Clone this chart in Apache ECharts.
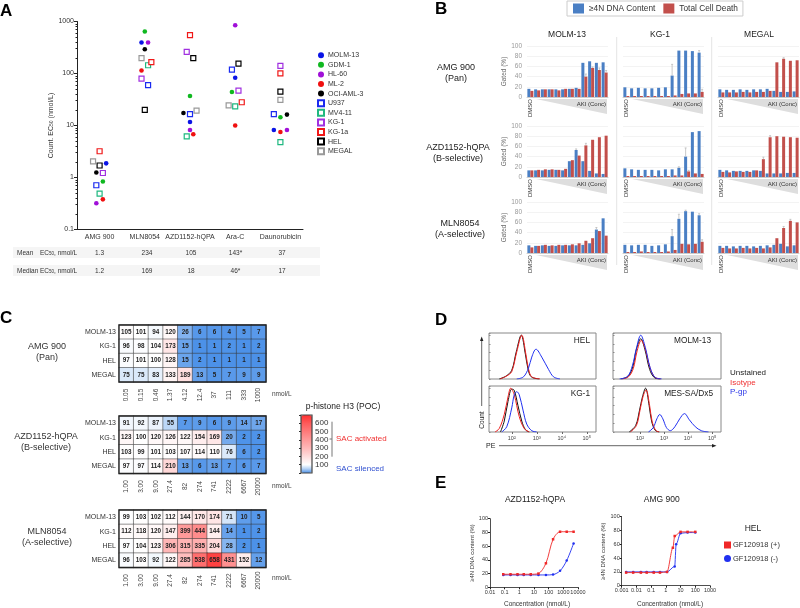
<!DOCTYPE html>
<html><head><meta charset="utf-8">
<style>html,body{margin:0;padding:0;background:#fff}#c{width:800px;height:608px}</style>
<script src="https://cdn.jsdelivr.net/npm/echarts@6/dist/echarts.min.js"></script>
</head><body><div id="c"></div>
<script>
// ---------- Panel A data ----------
const drugs = ['AMG 900','MLN8054','AZD1152-hQPA','Ara-C','Daunorubicin'];
const meanRow = ['1.3','234','105','143*','37'];
const medianRow = ['1.2','169','18','46*','17'];
const molm13 = [1.87,394,11.7,83,8.2];
const gdm1   = [0.84,641,37,44,14.4];
const hl60   = [0.32,394,8.2,849,8.2];
const ml2    = [0.38,114,6.8,10,7.5];
const ociAml3= [1.25,293,17.4,null,16.2];
const u937   = [0.71,60,16.6,119,16.6];
const mv411  = [0.49,144,6.2,23.4,4.8];
const kg1    = [1.22,80,260,47,140];
const kg1a   = [3.2,165,545,28,101];
const hel    = [1.7,20,197,155,45];
const megal  = [2.05,197,19.3,24.4,31];
// horizontal swarm slot of each point inside its drug column
const molm13Slot=[2,-1,0,0,-2], gdm1Slot=[1,0,0,-1,0], hl60Slot=[-1,1,0,0,2], ml2Slot=[1,-1,1,0,0],
 ociSlot=[-1,0,-2,0,2], u937Slot=[-1,1,0,-1,-2], mv411Slot=[0,1,-1,0,0], kg1Slot=[1,-1,-1,1,0],
 kg1aSlot=[0,2,0,2,0], helSlot=[0,0,1,1,0], megalSlot=[-2,-1,2,-2,0];
// ---------- Panel B data ----------
const bCols = ['MOLM-13','KG-1','MEGAL'];
const amgMolmB=[16,15,15,15,15,15,16,18,67,70,67,68], amgMolmR=[12,13,15,15,13,16,16,16,40,57,53,48];
const amgKgB=[19,17,18,17,17,18,19,42,91,91,90,87],   amgKgR=[2,2,2,2,2,2,2,3,6,7,7,10];
const amgMegB=[15,14,14,15,14,15,15,16,12,10,10,11],  amgMegR=[9,9,9,10,9,10,10,12,68,75,71,72];
const azdMolmB=[13,13,13,14,14,13,31,53,31,12,7,6],   azdMolmR=[13,14,15,15,14,16,33,42,62,73,78,81];
const azdKgB=[17,15,14,14,14,13,15,15,18,40,88,90],   azdKgR=[2,2,2,2,2,2,2,3,3,11,7,6];
const azdMegB=[14,13,12,12,12,13,12,7,7,7,8,8],       azdMegR=[10,9,11,10,10,13,35,78,80,79,78,77];
const mlnMolmB=[15,14,15,14,14,15,15,15,16,19,46,68], mlnMolmR=[11,14,16,15,16,16,17,19,24,29,43,34];
const mlnKgB=[16,15,16,16,14,15,17,33,67,82,81,74],   mlnKgR=[2,2,3,2,2,2,3,6,18,17,18,22];
const mlnMegB=[14,14,13,14,14,13,14,15,16,18,13,15],  mlnMegR=[10,9,9,10,9,10,9,11,29,49,63,60];
// [row, col, colour series, bar, error]
const bErrors=[[0,0,1,8,5],[0,0,1,9,2],[0,0,1,10,4],[0,0,1,11,4],[0,1,0,7,22],[0,1,0,11,4],[0,1,1,11,5],[0,2,1,9,2],
 [1,0,0,7,2],[1,0,1,8,4],[1,1,0,9,17],[1,1,0,8,2],[1,1,1,9,2],[1,2,1,6,4],[1,2,1,7,3],
 [2,0,0,10,4],[2,1,0,7,13],[2,1,0,8,9],[2,1,0,9,2],[2,1,0,11,3],[2,1,1,11,4],[2,2,1,9,3],[2,2,1,10,3]];
// ---------- Panel C data ----------
const cRows=['MOLM-13','KG-1','HEL','MEGAL'];
const amgDoses=['0.05','0.15','0.46','1.37','4.12','12.4','37','111','333','1000'];
const azdDoses=['1.00','3.00','9.00','27.4','82','274','741','2222','6667','20000'];
const mlnDoses=['1.00','3.00','9.00','27.4','82','274','741','2222','6667','20000'];
const amgHeat=[[105,101,94,120,26,6,6,4,5,7],[96,98,104,173,15,1,1,2,1,2],[97,101,100,128,15,2,1,1,1,1],[75,75,83,133,189,13,5,7,9,9]];
const azdHeat=[[91,92,87,55,7,9,6,9,14,17],[123,100,120,126,122,154,169,20,2,2],[103,99,101,103,107,114,110,76,6,2],[97,97,114,210,13,6,13,7,6,7]];
const mlnHeat=[[99,103,102,112,144,170,174,71,10,5],[112,118,120,147,399,444,144,14,1,2],[97,104,123,306,315,335,204,28,2,1],[96,103,92,122,285,538,658,431,152,12]];
// ---------- Panel D data: [log10 PE, count %] ----------
const helBlack=[[1.5,0],[1.78,7],[2,20],[2.18,62],[2.38,100],[2.55,55],[2.65,23],[2.78,5],[3.1,0]];
const helRed=[[1.53,0],[1.8,7],[2,17],[2.2,62],[2.4,100],[2.57,55],[2.67,23],[2.8,5],[3.13,0]];
const helBlue=[[2.2,0],[2.47,5],[2.67,25],[2.8,50],[2.97,68],[3.2,50],[3.47,22],[3.67,5],[3.93,0]];
const molBlack=[[1.2,0],[1.5,6],[1.7,28],[1.85,68],[2.03,92],[2.2,68],[2.4,22],[2.6,3],[2.85,0]];
const molRed=[[1.25,0],[1.52,5],[1.72,24],[1.87,62],[2.05,88],[2.2,72],[2.42,25],[2.62,4],[2.85,0]];
const molBlue=[[1.15,0],[1.48,6],[1.68,30],[1.85,70],[2.03,100],[2.22,72],[2.42,26],[2.62,4],[2.9,0]];
const kgBlack=[[1.55,0],[1.7,25],[1.85,70],[2,98],[2.1,95],[2.25,60],[2.4,25],[2.55,5],[2.7,0]];
const kgRed=[[1.33,0],[1.5,8],[1.7,40],[1.85,80],[1.96,100],[2.1,85],[2.3,35],[2.5,8],[2.7,0]];
const kgBlue=[[1.6,0],[1.8,12],[2,55],[2.1,85],[2.2,92],[2.3,85],[2.45,50],[2.6,18],[2.8,3],[3,0]];
const mesBlack=[[1.55,0],[1.82,15],[1.98,50],[2.1,80],[2.23,100],[2.38,60],[2.48,25],[2.63,4],[2.8,0]];
const mesRed=[[1.6,0],[1.85,15],[2,50],[2.12,80],[2.25,96],[2.4,60],[2.5,25],[2.65,4],[2.8,0]];
const mesBlue=[[2.35,0],[2.55,10],[2.7,30],[2.82,40],[2.95,30],[3.1,10],[3.26,3],[3.45,12],[3.65,30],[3.85,42],[4.05,28],[4.3,12],[4.55,3],[4.85,0]];
// ---------- Panel E data: [nmol/L, %] ----------
const azdPlus=[[0.08,19],[0.25,19],[0.75,19],[2,19],[6,19],[20,20],[65,35],[200,70],[600,81],[1700,81],[5000,81]];
const azdMinus=[[0.08,18],[0.25,18],[0.75,18],[2,18],[6,18],[20,18],[65,18],[200,18.5],[600,24],[1700,39],[5000,64]];
const amgPlus=[[0.002,19],[0.006,19],[0.02,19],[0.05,19],[0.15,19],[0.4,19],[1.2,20],[3,55],[4,72],[10,78],[30,78],[100,78]];
const amgMinus=[[0.002,20],[0.006,20],[0.02,20],[0.05,20],[0.15,20],[0.4,20],[1.2,20],[4,28],[5,60],[10,76],[30,77],[100,77]];

const FONT='"Liberation Sans",Arial,sans-serif';
const grid=[],xAxis=[],yAxis=[],series=[],gfx=[];
const T=(x,y,text,o={})=>gfx.push({type:'text',x,y,rotation:o.rot||0,silent:true,z:20,
  style:{text,fontFamily:FONT,fontSize:o.size||8,fontWeight:o.bold?'bold':'normal',fill:o.color||'#333',
  align:o.align||'left',verticalAlign:'middle',rich:o.rich}});
const R=(x,y,w,h,fill)=>gfx.push({type:'rect',shape:{x,y,width:w,height:h},style:{fill},silent:true,z:1});
const L=(x1,y1,x2,y2,c='#777',w=1)=>gfx.push({type:'line',shape:{x1,y1,x2,y2},style:{stroke:c,lineWidth:w},silent:true,z:3});
const P=(pts,fill)=>gfx.push({type:'polygon',shape:{points:pts},style:{fill},silent:true,z:1});

// ---- Panel letters
[['A',0,11],['B',435,9],['C',0,318],['D',435,320],['E',435,483]].forEach(a=>T(a[1],a[2],a[0],{size:17,bold:true,color:'#000'}));

// ---- Panel A
grid.push({left:77,top:21.5,width:226,height:208});
xAxis.push({gridIndex:0,type:'category',data:drugs,axisLine:{lineStyle:{color:'#222'}},axisTick:{alignWithLabel:true,length:2.5,lineStyle:{color:'#222'}},
  axisLabel:{fontSize:7,color:'#333',fontFamily:FONT,margin:4,interval:0}});
xAxis.push({gridIndex:0,type:'value',min:-0.5,max:4.5,show:false});
yAxis.push({gridIndex:0,type:'log',logBase:10,min:0.1,max:1000,splitLine:{show:false},
  axisLine:{show:true,onZero:false,lineStyle:{color:'#222'}},axisTick:{length:3,lineStyle:{color:'#222'}},minorTick:{show:true,length:1.5,splitNumber:9},minorSplitLine:{show:false},
  axisLabel:{fontSize:7,color:'#333',fontFamily:FONT,margin:3,formatter:v=>String(v)},
  name:'Count. EC{s|50} (nmol/L)',nameLocation:'middle',nameGap:21,nameTextStyle:{fontSize:7,color:'#333',fontFamily:FONT,rich:{s:{fontSize:5,verticalAlign:'bottom',fontFamily:FONT,color:'#333'}}}});
const aSeries=[['MOLM-13',molm13,molm13Slot,'#0a14e6',0],['GDM-1',gdm1,gdm1Slot,'#10b820',0],['HL-60',hl60,hl60Slot,'#a010d8',0],['ML-2',ml2,ml2Slot,'#f01010',0],['OCI-AML-3',ociAml3,ociSlot,'#000',0],
 ['U937',u937,u937Slot,'#1a2af0',1],['MV4-11',mv411,mv411Slot,'#1fb880',1],['KG-1',kg1,kg1Slot,'#a030e0',1],['KG-1a',kg1a,kg1aSlot,'#f01818',1],['HEL',hel,helSlot,'#000',1],['MEGAL',megal,megalSlot,'#999',1]];
aSeries.forEach(s=>{
  series.push({name:s[0],type:'scatter',xAxisIndex:1,yAxisIndex:0,symbol:s[4]?'rect':'circle',symbolSize:s[4]?5:4.6,
   itemStyle:s[4]?{color:'#fff',borderColor:s[3],borderWidth:1.2,opacity:1}:{color:s[3],opacity:1},
   data:s[1].map((v,i)=>v==null?null:[i+s[2][i]*0.0725,v]).filter(Boolean)});
});
R(13,247,307,11,'#f5f5f5'); R(13,265,307,11,'#f5f5f5');
const ec='EC{s|50}, nmol/L', rich={s:{fontSize:4.5,verticalAlign:'bottom',fontFamily:FONT,color:'#333'}};
T(17,253,'Mean',{size:6.5}); T(17,271,'Median',{size:6.5}); T(40,253,ec,{size:6.5,rich}); T(40,271,ec,{size:6.5,rich});
const rowX=[99.5,147,191,235.5,282];
rowX.forEach((x,i)=>{T(x,253,meanRow[i],{size:6.5,align:'center'});T(x,271,medianRow[i],{size:6.5,align:'center'});});

// ---- Panel B
const bData=[[[amgMolmB,amgMolmR],[amgKgB,amgKgR],[amgMegB,amgMegR]],[[azdMolmB,azdMolmR],[azdKgB,azdKgR],[azdMegB,azdMegR]],[[mlnMolmB,mlnMolmR],[mlnKgB,mlnKgR],[mlnMegB,mlnMegR]]];
const colX=[527,623,718], rowTop=[46,126,202], bNames=['≥4N DNA Content','Total Cell Death'], bColors=['#4a7fc4','#c24f4b'];
const bCats=['DMSO','','','','','','','','','','',''];
bData.forEach((row,r)=>row.forEach((pair,c)=>{
  const gi=grid.length, W=81, H=51;
  grid.push({left:colX[c],top:rowTop[r],width:W,height:H});
  xAxis.push({gridIndex:gi,type:'category',data:bCats,axisLine:{lineStyle:{color:'#ccc'}},axisTick:{show:false},
    axisLabel:{interval:0,rotate:90,fontSize:6,color:'#333',margin:2,fontFamily:FONT}});
  yAxis.push({gridIndex:gi,type:'value',min:0,max:100,interval:20,axisLine:{show:false},axisTick:{show:false},splitLine:{lineStyle:{color:'#eee',width:.7}},
    axisLabel:{show:c===0,fontSize:6.5,color:'#999',margin:5,fontFamily:FONT},
    name:c===0?'Gated (%)':'',nameLocation:'middle',nameGap:16,nameTextStyle:{fontSize:6.5,color:'#666',fontFamily:FONT}});
  const xi=xAxis.length-1,yi=yAxis.length-1;
  pair.forEach((vals,k)=>series.push({name:bNames[k],type:'bar',xAxisIndex:xi,yAxisIndex:yi,barWidth:3,barGap:'0%',data:vals,itemStyle:{color:bColors[k]},silent:true}));
  const err=bErrors.filter(e=>e[0]===r&&e[1]===c).map(e=>[e[3],pair[e[2]][e[3]],e[4],e[2]]);
  series.push({type:'custom',xAxisIndex:xi,yAxisIndex:yi,silent:true,z:5,encode:{x:0,y:1},data:err,renderItem:(p,api)=>{
    const dx=api.value(3)===0?-1.5:1.5,a=api.coord([api.value(0),api.value(1)]),b=api.coord([api.value(0),api.value(1)+api.value(2)]);
    return {type:'group',children:[
      {type:'line',shape:{x1:a[0]+dx,y1:a[1],x2:b[0]+dx,y2:b[1]},style:{stroke:'#bbb',lineWidth:.8}},
      {type:'line',shape:{x1:b[0]+dx-1,y1:b[1],x2:b[0]+dx+1,y2:b[1]},style:{stroke:'#bbb',lineWidth:.8}}]};}});
  const x1=colX[c]+W-1,y0=rowTop[r]+H+2;
  P([[colX[c]+9,y0],[x1,y0],[x1,y0+15]],'#dedede');
  T(x1-1,y0+5,'AKI (Conc)',{size:6,align:'right',color:'#333'});
}));
bCols.forEach((n,i)=>T([567,660,759][i],34.5,n,{size:8.5,align:'center',color:'#222'}));
L(616.7,37,616.7,265,'#e4e4e4'); L(711.7,37,711.7,265,'#e4e4e4');
[[456,68,'AMG 900'],[456,78.5,'(Pan)'],[458,148,'AZD1152-hQPA'],[458,159,'(B-selective)'],[460,224,'MLN8054'],[460,235,'(A-selective)']]
 .forEach(t=>T(t[0],t[1],t[2],{size:9,align:'center',color:'#222'}));

// ---- Panel C
const heatIdx=[];
[[amgHeat,amgDoses,325,57],[azdHeat,azdDoses,416,57.5],[mlnHeat,mlnDoses,510,57.5]].forEach(h=>{
  const gi=grid.length;
  grid.push({left:119,top:h[2],width:147,height:h[3],show:true,borderColor:'#222',borderWidth:1.3,backgroundColor:'transparent',z:4});
  xAxis.push({gridIndex:gi,type:'category',data:h[1],axisLine:{show:false},axisTick:{show:false},splitLine:{show:false},
    axisLabel:{interval:0,rotate:90,align:'center',verticalAlign:'middle',fontSize:6.5,color:'#444',margin:13,fontFamily:FONT}});
  yAxis.push({gridIndex:gi,type:'category',inverse:true,data:cRows,axisLine:{show:false},axisTick:{show:false},splitLine:{show:false},
    axisLabel:{fontSize:7,color:'#333',margin:3,fontFamily:FONT}});
  heatIdx.push(series.length);
  const d=[];h[0].forEach((row,y)=>row.forEach((v,x)=>d.push([x,y,v])));
  series.push({type:'heatmap',xAxisIndex:xAxis.length-1,yAxisIndex:yAxis.length-1,data:d,silent:true,
    itemStyle:{borderColor:'#333',borderWidth:.5},
    label:{show:true,fontSize:6.3,fontWeight:'bold',color:'#222',fontFamily:FONT,formatter:p=>p.value[2]}});
});
[[47,347,'AMG 900'],[47,358,'(Pan)'],[46,437,'AZD1152-hQPA'],[46,448,'(B-selective)'],[47,532,'MLN8054'],[47,542.5,'(A-selective)']]
 .forEach(t=>T(t[0],t[1],t[2],{size:9,align:'center',color:'#333'}));
[394,486,578].forEach(y=>T(272,y,'nmol/L',{size:6.5,color:'#444'}));
// colour bar axis
const cbi=grid.length;
grid.push({left:301,top:415,width:11,height:58,show:true,borderColor:'#444',borderWidth:1.2,backgroundColor:'transparent',z:6});
xAxis.push({gridIndex:cbi,type:'value',min:0,max:1,show:false});
yAxis.push({gridIndex:cbi,type:'value',position:'right',min:0,max:700,interval:100,splitLine:{show:false},axisLine:{show:false},z:7,
  axisTick:{show:true,inside:true,length:2,lineStyle:{color:'#333'}},axisLabel:{fontSize:8,color:'#333',margin:3,fontFamily:FONT,formatter:v=>(v===0||v===700)?'':String(v)}});
T(343,407,'p-histone H3 (POC)',{size:8.5,align:'center',color:'#222'});
L(332,421.7,332,456.7,'#777'); L(329.5,439,332,439,'#777');
T(336,438.5,'SAC activated',{size:8,color:'#f03030'});
T(336,469,'SAC silenced',{size:8,color:'#3050d0'});

// ---- Panel D
const dPanels=[['HEL',489,333,107,46,1.09,5.37,511.7,helBlack,helRed,helBlue,590],['MOLM-13',613,333,108,46,0.875,5.37,640,molBlack,molRed,molBlue,711],
 ['KG-1',489,386,107,46,1.09,5.37,511.7,kgBlack,kgRed,kgBlue,590],['MES-SA/Dx5',613,386,108,46,0.875,5.37,640,mesBlack,mesRed,mesBlue,713]];
const sup={2:'10²',3:'10³',4:'10⁴',5:'10⁵'};
dPanels.forEach((d,i)=>{
  const gi=grid.length;
  grid.push({left:d[1],top:d[2],width:d[3],height:d[4],show:true,borderColor:'#888',borderWidth:1,backgroundColor:'transparent'});
  xAxis.push({gridIndex:gi,type:'value',min:d[5],max:d[6],splitLine:{show:false},axisLine:{show:false},
    axisTick:{show:i>=2,customValues:[2,3,4,5],length:2,lineStyle:{color:'#666'}},
    axisLabel:{show:i>=2,customValues:[2,3,4,5],fontSize:5.5,color:'#444',margin:3,fontFamily:FONT,formatter:v=>sup[Math.round(v)]||''}});
  yAxis.push({gridIndex:gi,type:'value',min:0,max:105,interval:20,splitLine:{show:false},axisLine:{show:false},axisLabel:{show:false},axisTick:{length:1.5,inside:true,lineStyle:{color:'#888'}}});
  const xi=xAxis.length-1,yi=yAxis.length-1;
  [[d[8],'#111'],[d[9],'#f02020'],[d[10],'#2030f0']].forEach(c=>series.push({type:'line',xAxisIndex:xi,yAxisIndex:yi,data:c[0],smooth:0.35,showSymbol:false,silent:true,lineStyle:{color:c[1],width:1}}));
  T(d[11],d[2]+8,d[0],{size:8.3,align:'right',color:'#222'});
});
[['Unstained','#222',373],['Isotype','#f03030',382.7],['P-gp','#2a35e8',392]].forEach(t=>T(730,t[2],t[0],{size:8,color:t[1]}));
L(481.7,340,481.7,406,'#222',.7); P([[481.7,336.5],[480,341],[483.4,341]],'#222');
T(482,420,'Count',{size:6.5,align:'center',rot:Math.PI/2,color:'#222'});
L(499,445.7,713,445.7,'#222',.7); P([[716.5,445.7],[712,444],[712,447.4]],'#222');
T(486,445.7,'PE',{size:7,color:'#222'});

// ---- Panel E
[[azdPlus,azdMinus,490,518.7,88,68.6,0.01,10000,false],[amgPlus,amgMinus,621.7,516.7,88.3,69,0.001,1000,true]].forEach(e=>{
  const gi=grid.length;
  grid.push({left:e[2],top:e[3],width:e[4],height:e[5]});
  xAxis.push({gridIndex:gi,type:'log',logBase:10,min:e[6],max:e[7],splitNumber:6,splitLine:{show:false},minorSplitLine:{show:false},
    axisLine:{onZero:false,lineStyle:{color:'#222',width:.8}},axisTick:{length:2,lineStyle:{color:'#222'}},
    axisLabel:{fontSize:5.5,color:'#333',margin:2,fontFamily:FONT,showMinLabel:true,showMaxLabel:true,hideOverlap:false,formatter:v=>String(v)}});
  yAxis.push({gridIndex:gi,type:'value',min:0,max:100,interval:20,splitLine:{show:false},axisLine:{show:true,onZero:false,lineStyle:{color:'#222',width:.8}},axisTick:{length:2,lineStyle:{color:'#222'}},
    axisLabel:{fontSize:5.5,color:'#333',margin:2,fontFamily:FONT},
    name:'≥4N DNA content (%)',nameLocation:'middle',nameGap:12,nameTextStyle:{fontSize:6,color:'#333',fontFamily:FONT}});
  const xi=xAxis.length-1,yi=yAxis.length-1;
  [[e[1],'GF120918 (-)','#2030f0','circle'],[e[0],'GF120918 (+)','#f02828','rect']].forEach(c=>series.push({name:c[1],type:'line',xAxisIndex:xi,yAxisIndex:yi,data:c[0],smooth:0.3,smoothMonotone:e[8]?'x':undefined,symbol:c[3],symbolSize:2.5,
    lineStyle:{color:c[2],width:.9},itemStyle:{color:c[2]},silent:true}));
});
T(535,500,'AZD1152-hQPA',{size:8.5,align:'center',color:'#222'});
T(661.7,500,'AMG 900',{size:8.5,align:'center',color:'#222'});
T(537,604,'Concentration (nmol/L)',{size:6.5,align:'center'});
T(670,604,'Concentration (nmol/L)',{size:6.5,align:'center'});
T(753,529,'HEL',{size:8.5,align:'center',color:'#222'});

const legend=[
 {data:aSeries.map(s=>s[0]),orient:'vertical',left:317,top:51,itemWidth:6,itemHeight:6,itemGap:1.2,selectedMode:false,padding:0,textStyle:{fontSize:7,color:'#333',fontFamily:FONT,padding:[0,0,0,-1],lineHeight:8.4}},
 {data:[{name:bNames[0],icon:'rect'},{name:bNames[1],icon:'rect'}],left:567,top:1,itemWidth:11,itemHeight:10,itemGap:8,selectedMode:false,borderColor:'#ccc',borderWidth:1,padding:[2.5,5,2.5,6],textStyle:{fontSize:8.3,color:'#333',fontFamily:FONT}},
 {data:[{name:'GF120918 (+)',icon:'rect'},{name:'GF120918 (-)',icon:'circle'}],orient:'vertical',left:724,top:541,itemWidth:7,itemHeight:7,itemGap:5.5,selectedMode:false,padding:0,textStyle:{fontSize:7.5,color:'#333',fontFamily:FONT,padding:[0,0,0,-3]}}
];
// stops every 50 units, 0..700
const visualMap=[{type:'continuous',show:true,min:0,max:700,left:301,top:415,itemWidth:11,itemHeight:58,padding:0,text:null,calculable:false,hoverLink:false,borderRadius:0,seriesIndex:heatIdx,
  inRange:{color:['#4a90e8','#b5d2f5','#ffffff','#ffeeee','#ffdcdc','#ffcaca','#ffb8b8','#ffa9a9','#ff9a9a','#ff8a8a','#ff7a7a','#ff6a6a','#ff5a5a','#ff4545','#ff3030']}}];

const chart=echarts.init(document.getElementById('c'),null,{renderer:'canvas'});
chart.setOption({animation:false,backgroundColor:'#fff',textStyle:{fontFamily:FONT},tooltip:{show:false},grid,xAxis,yAxis,series,legend,visualMap,graphic:{elements:gfx}});
</script></body></html>
